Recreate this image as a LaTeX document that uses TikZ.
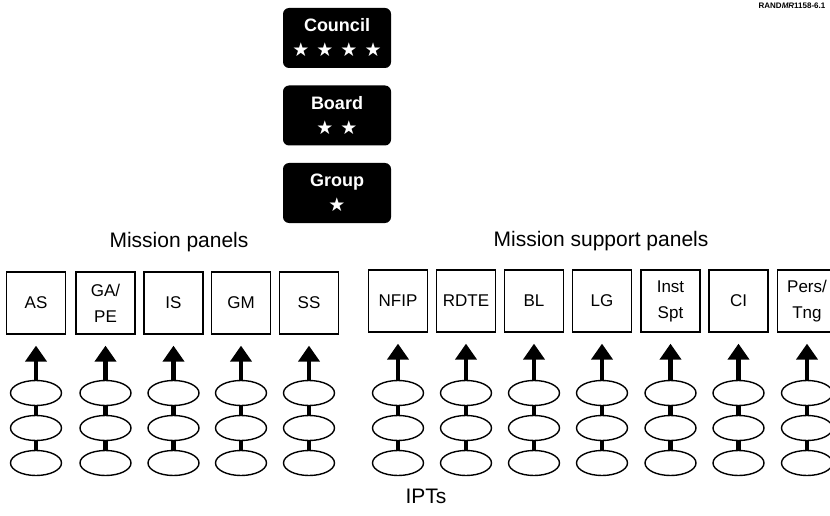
\documentclass[tikz,border=0pt]{standalone}
\usepackage{fontspec}
\setmainfont{Liberation Sans}
\newfontfamily\starfont{DejaVu Sans}
\usepackage{tikz}
\usetikzlibrary{arrows.meta, shapes.geometric, positioning}

\tikzstyle{rank} = [fill=black, rounded corners=6pt, minimum width=108pt, minimum height=60pt, inner sep=0pt, text=white, align=center, font=\fontsize{18}{21}\selectfont\bfseries]
\tikzstyle{panel} = [draw, line width=1.3pt, minimum width=59pt, minimum height=62pt, inner sep=0pt, align=center, font=\fontsize{17}{26}\selectfont]
\tikzstyle{ipt} = [draw, ellipse, line width=1.4pt, minimum width=51pt, minimum height=25pt, inner sep=0pt]
\tikzstyle{arrow} = [line width=4.5pt, -{Triangle[length=16pt, width=21pt]}, shorten >=11pt]
\tikzstyle{link} = [line width=4.5pt]
\tikzstyle{label} = [font=\fontsize{21}{24}\selectfont]
\newcommand{\stars}[1]{{\starfont\fontsize{19}{19}\selectfont #1}}

\begin{document}
\begin{tikzpicture}[x=1pt, y=-1pt]
    \clip (0,0) rectangle (830,516);

    % council, board, group
    \node[rank] (council) at (337,38) {Council\\[4pt]\stars{★\hspace{7pt}★\hspace{7pt}★\hspace{7pt}★}};
    \node[rank] (board) at (337,115.5) {Board\\[4pt]\stars{★\hspace{7pt}★}};
    \node[rank] (group) at (337,193) {Group\\[4pt]\stars{★}};

    \node[font=\fontsize{8}{10}\selectfont\bfseries] (tag) at (792,6) {RAND\textit{MR}1158-6.1};

    % panels
    \node[label] (mission) at (179,242) {Mission panels};
    \node[label] (support) at (601,241) {Mission support panels};

    \node[panel] (as) at (36,303) {AS};
    \node[panel] (gape) at (105.5,303) {GA/\\PE};
    \node[panel] (is) at (173.5,303) {IS};
    \node[panel] (gm) at (241,303) {GM};
    \node[panel] (ss) at (309,303) {SS};

    \node[panel] (nfip) at (398,301) {NFIP};
    \node[panel] (rdte) at (466,301) {RDTE};
    \node[panel] (bl) at (534,301) {BL};
    \node[panel] (lg) at (602,301) {LG};
    \node[panel] (inst) at (670.5,301) {Inst\\Spt};
    \node[panel] (ci) at (738.5,301) {CI};
    \node[panel] (pers) at (807,301) {Pers/\\Tng};

    % IPTs under each panel
    \foreach \n/\x in {as/36, gape/105.5, is/173.5, gm/241, ss/309, nfip/398, rdte/466, bl/534, lg/602, inst/670.5, ci/738.5, pers/807} {
        \node[ipt] (\n1) at (\x,393) {};
        \node[ipt] (\n2) at (\x,428) {};
        \node[ipt] (\n3) at (\x,463) {};
        \draw[link] (\n1.south) -- (\n2.north);
        \draw[link] (\n2.south) -- (\n3.north);
        \draw[arrow] (\n1.north) -- (\n.south);
    }

    \node[label] (ipts) at (426,496) {IPTs};
\end{tikzpicture}
\end{document}
